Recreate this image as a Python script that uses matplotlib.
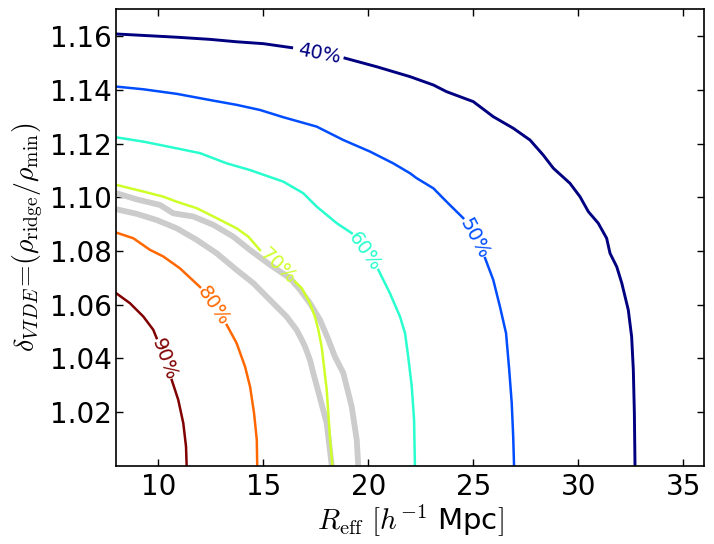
import numpy as np
import matplotlib
matplotlib.use("Agg")
import matplotlib.pyplot as plt

plt.rcParams["mathtext.fontset"] = "cm"

# ─── Contour data (segment a: before label, b: after) ────

LEVELS = ["40%", "50%", "60%", "70%", "80%", "90%"]

c40_a = [(8.0, 1.1608), (10.88, 1.1596), (12.46, 1.1588), (13.73, 1.1579),
         (15.00, 1.1572), (16.35, 1.1557)]
c40_b = [(18.89, 1.1518), (20.40, 1.1486), (21.99, 1.1449), (23.10, 1.1418),
         (23.73, 1.1393), (25.00, 1.1356), (25.95, 1.1300), (26.90, 1.1257),
         (27.70, 1.1213), (28.33, 1.1157), (28.81, 1.1108), (29.60, 1.1052),
         (30.08, 1.1002), (30.48, 1.0946), (30.95, 1.0903), (31.35, 1.0847),
         (31.51, 1.0791), (31.83, 1.0741), (32.07, 1.0680), (32.38, 1.0580),
         (32.54, 1.0480), (32.62, 1.0357), (32.67, 1.0195), (32.70, 1.0)]

c50_a = [(8.0, 1.1412), (9.29, 1.1402), (10.88, 1.1385), (12.46, 1.1362),
         (13.73, 1.1344), (14.84, 1.1325), (15.95, 1.1298), (17.54, 1.1263),
         (18.81, 1.1213), (20.08, 1.1170), (21.19, 1.1126), (21.99, 1.1089),
         (22.30, 1.1071), (23.10, 1.1033), (23.73, 1.0983), (24.52, 1.0922)]
c50_b = [(25.56, 1.0773), (25.95, 1.0692), (26.27, 1.0592), (26.56, 1.0493),
         (26.71, 1.0357), (26.83, 1.0233), (26.90, 1.0108), (26.94, 1.0)]

c60_a = [(8.0, 1.1223), (9.29, 1.1207), (10.88, 1.1182), (11.99, 1.1164),
         (13.26, 1.1126), (14.37, 1.1101), (15.95, 1.1058), (16.90, 1.1015),
         (17.54, 1.0965), (18.50, 1.0903), (19.21, 1.0866)]
c60_b = [(20.48, 1.0729), (21.03, 1.0642), (21.51, 1.0555), (21.75, 1.0493),
         (21.90, 1.0406), (22.07, 1.0294), (22.18, 1.0170), (22.22, 1.0)]

c70_a = [(8.0, 1.1046), (9.29, 1.1021), (10.24, 1.1002), (10.88, 1.0983),
         (11.83, 1.0959), (12.78, 1.0922), (13.73, 1.0884), (14.29, 1.0853),
         (14.84, 1.0803)]
c70_b = [(16.51, 1.0685), (16.83, 1.0661), (17.22, 1.0605), (17.46, 1.0555),
         (17.62, 1.0506), (17.78, 1.0443), (18.02, 1.0282), (18.18, 1.0096),
         (18.29, 1.0)]

c80_a = [(8.0, 1.0868), (8.81, 1.0847), (9.60, 1.0804), (10.24, 1.0779),
         (11.03, 1.0735), (11.99, 1.0665)]
c80_b = [(13.26, 1.0524), (13.73, 1.0456), (14.13, 1.0369), (14.37, 1.0294),
         (14.56, 1.0195), (14.69, 1.0096), (14.71, 1.0)]

c90_a = [(8.0, 1.0642), (8.65, 1.0605), (9.29, 1.0555), (9.76, 1.0506),
         (9.92, 1.0475)]
c90_b = [(10.64, 1.0319), (10.95, 1.0245), (11.19, 1.0158), (11.32, 1.0071),
         (11.35, 1.0)]

# grey reference band
grey_upper = [(8.0, 1.1015), (8.97, 1.0992), (10.08, 1.0971), (10.71, 1.0940),
              (11.67, 1.0928), (12.62, 1.0897), (13.57, 1.0853), (14.37, 1.0803),
              (15.32, 1.0748), (16.27, 1.0698), (16.75, 1.0655), (17.22, 1.0605),
              (17.70, 1.0543), (18.10, 1.0469), (18.41, 1.0406), (18.81, 1.0345),
              (19.21, 1.0220), (19.45, 1.0096), (19.52, 1.0)]
grey_lower = [(8.0, 1.0955), (8.97, 1.0938), (9.92, 1.0915), (10.88, 1.0884),
              (11.83, 1.0841), (12.78, 1.0791), (13.73, 1.0729), (14.52, 1.0680),
              (15.32, 1.0617), (16.11, 1.0555), (16.59, 1.0505), (16.83, 1.0469),
              (16.99, 1.0443), (17.22, 1.0394), (17.38, 1.0345), (17.70, 1.0252),
              (18.02, 1.0158), (18.26, 1.0)]

# inline label anchors (x, y)
label_pos = [(17.67, 1.1536), (25.05, 1.0846), (19.84, 1.0797),
             (15.68, 1.0744), (12.62, 1.0594), (10.28, 1.0397)]
label_rot = [-11, -62, -55, -44, -56, -70]

segments = [(c40_a, c40_b), (c50_a, c50_b), (c60_a, c60_b),
            (c70_a, c70_b), (c80_a, c80_b), (c90_a, c90_b)]

# ─── Plot ─────────────────────────────────────────────────────────────────────

fig = plt.figure(figsize=(7.14, 5.44), dpi=100)
ax = fig.add_axes([116.3 / 714, (544 - 465.6) / 544,
                   (704.3 - 116.3) / 714, (465.6 - 9.3) / 544])

for g in (grey_upper, grey_lower):
    g = np.array(g)
    ax.plot(g[:, 0], g[:, 1], color="0.8", lw=4.2, solid_capstyle="butt")

colors = plt.cm.jet(np.linspace(0, 1, len(LEVELS)))
for i, (lab, (sa, sb)) in enumerate(zip(LEVELS, segments)):
    lw = 2.1 if i == 0 else 1.8
    for seg in (sa, sb):
        seg = np.array(seg)
        ax.plot(seg[:, 0], seg[:, 1], color=colors[i], lw=lw)
    ax.text(label_pos[i][0], label_pos[i][1], lab, color=colors[i],
            fontsize=14, rotation=label_rot[i], rotation_mode="anchor",
            ha="center", va="center")

ax.set_xlim(8, 36)
ax.set_ylim(1.0, 1.17)
ax.set_xticks(np.arange(10, 36, 5))
ax.set_yticks(np.arange(1.02, 1.165, 0.02))
ax.set_yticklabels([f"{v:.2f}" for v in np.arange(1.02, 1.165, 0.02)])
ax.tick_params(direction="in", length=5, width=1, top=True, right=True,
               labelsize=20)
ax.tick_params(axis="y", pad=3)
ax.tick_params(axis="x", pad=5)
for sp in ax.spines.values():
    sp.set_linewidth(1.2)

ax.set_xlabel(r"$R_{\rm eff}$ $[h^{-1}$ Mpc$]$", fontsize=21, labelpad=1)
ax.set_ylabel(r"$\delta_{VIDE}\!=\!(\rho_{\rm ridge}/\rho_{\rm min})$",
              fontsize=20, labelpad=4)

fig.savefig("out.png", dpi=100)
